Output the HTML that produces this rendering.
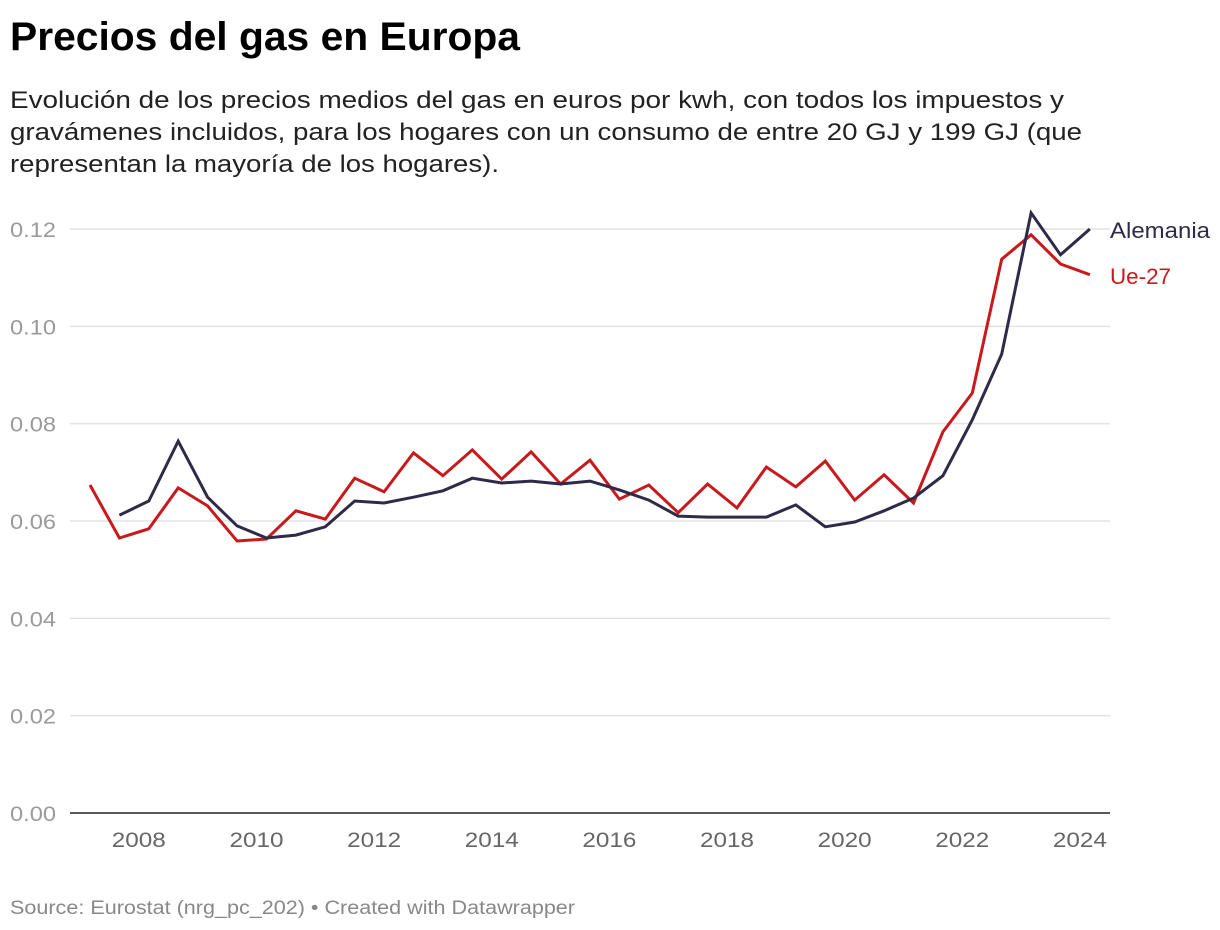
<!DOCTYPE html>
<html><head><meta charset="utf-8">
<style>
html,body{margin:0;padding:0;background:#fff;}
svg{display:block;font-family:"Liberation Sans",sans-serif;}
</style></head>
<body>
<svg id="chart" width="1220" height="930" viewBox="0 0 1220 930" xmlns="http://www.w3.org/2000/svg">
<text x="10" y="50" font-size="40" font-weight="bold" fill="#000" textLength="510" lengthAdjust="spacingAndGlyphs">Precios del gas en Europa</text>
<g font-size="24" fill="#222">
<text x="10" y="108" textLength="1054" lengthAdjust="spacingAndGlyphs">Evolución de los precios medios del gas en euros por kwh, con todos los impuestos y</text>
<text x="10" y="140" textLength="1072" lengthAdjust="spacingAndGlyphs">gravámenes incluidos, para los hogares con un consumo de entre 20 GJ y 199 GJ (que</text>
<text x="10" y="172" textLength="489" lengthAdjust="spacingAndGlyphs">representan la mayoría de los hogares).</text>
</g>
<g id="grid"></g>
<g id="xaxis"></g>
<g id="lines"></g>
<text x="1110" y="238" font-size="22" fill="#2e2a48" textLength="100" lengthAdjust="spacingAndGlyphs">Alemania</text>
<text x="1110" y="284" font-size="22" fill="#c8191c" textLength="61" lengthAdjust="spacingAndGlyphs">Ue-27</text>
<text x="10" y="914" font-size="19" fill="#888" textLength="565" lengthAdjust="spacingAndGlyphs">Source: Eurostat (nrg_pc_202) • Created with Datawrapper</text>
</svg>
<script>
const periods = ["2007S1","2007S2","2008S1","2008S2","2009S1","2009S2","2010S1","2010S2","2011S1","2011S2","2012S1","2012S2","2013S1","2013S2","2014S1","2014S2","2015S1","2015S2","2016S1","2016S2","2017S1","2017S2","2018S1","2018S2","2019S1","2019S2","2020S1","2020S2","2021S1","2021S2","2022S1","2022S2","2023S1","2023S2","2024S1"];
const ue27 = [0.0674,0.0565,0.0584,0.0668,0.0631,0.0559,0.0563,0.0621,0.0604,0.0688,0.0660,0.0740,0.0693,0.0746,0.0686,0.0742,0.0676,0.0725,0.0645,0.0674,0.0617,0.0676,0.0627,0.0711,0.0670,0.0723,0.0643,0.0695,0.0637,0.0783,0.0863,0.1138,0.1188,0.1128,0.1106];
const alemania = [null,0.0612,0.0641,0.0764,0.0649,0.0590,0.0565,0.0571,0.0588,0.0641,0.0637,0.0649,0.0662,0.0688,0.0678,0.0682,0.0676,0.0682,0.0664,0.0643,0.0610,0.0608,0.0608,0.0608,0.0633,0.0588,0.0598,0.0621,0.0647,0.0693,0.0808,0.0943,0.1233,0.1147,0.1200];
const yTicks = [0,0.02,0.04,0.06,0.08,0.10,0.12];
const yTickLabels = ["0.00","0.02","0.04","0.06","0.08","0.10","0.12"];
const xTicks = [2008,2010,2012,2014,2016,2018,2020,2022,2024];

const NS="http://www.w3.org/2000/svg";
function pt(p){return parseInt(p.slice(0,4))+(p.slice(4)==="S2"?0.5:0);}
function x(t){return 90+(t-2007)*58.82;}
function y(v){return 813-v*4866.7;}
function mk(tag,attrs,parent){const e=document.createElementNS(NS,tag);for(const k in attrs)e.setAttribute(k,attrs[k]);parent.appendChild(e);return e;}
const grid=document.getElementById('grid');
yTicks.forEach((v,i)=>{
  if(v>0){const l=mk('line',{x1:70,x2:1110,y1:y(v),y2:y(v),stroke:'#e3e3e3','stroke-width':1.5},grid);
  
  }
  const t=mk('text',{x:10,y:y(v)+8,'font-size':21,fill:'#9a9a9a',textLength:46,lengthAdjust:'spacingAndGlyphs'},grid);
  
  
  t.textContent=yTickLabels[i];
});
const base=mk('line',{x1:70,x2:1110,y1:813,y2:813,stroke:'#222','stroke-width':1.5},grid);


const xa=document.getElementById('xaxis');
xTicks.forEach(yr=>{
  const t=mk('text',{x:x(yr)-37,y:847,'font-size':21,fill:'#666',textLength:54,lengthAdjust:'spacingAndGlyphs'},xa);
  
  
  t.textContent=yr;
});
function line(vals,color,name){
  let d="";vals.forEach((v,i)=>{if(v==null)return;d+=(d?"L":"M")+x(pt(periods[i])).toFixed(1)+","+y(v).toFixed(1);});
  const p=mk('path',{d:d,fill:'none',stroke:color,'stroke-width':3,'stroke-linejoin':'miter'},document.getElementById('lines'));
  
  
}
line(ue27,'#c8191c','line-ue27');
line(alemania,'#2e2a48','line-alemania');
</script>
</body></html>
